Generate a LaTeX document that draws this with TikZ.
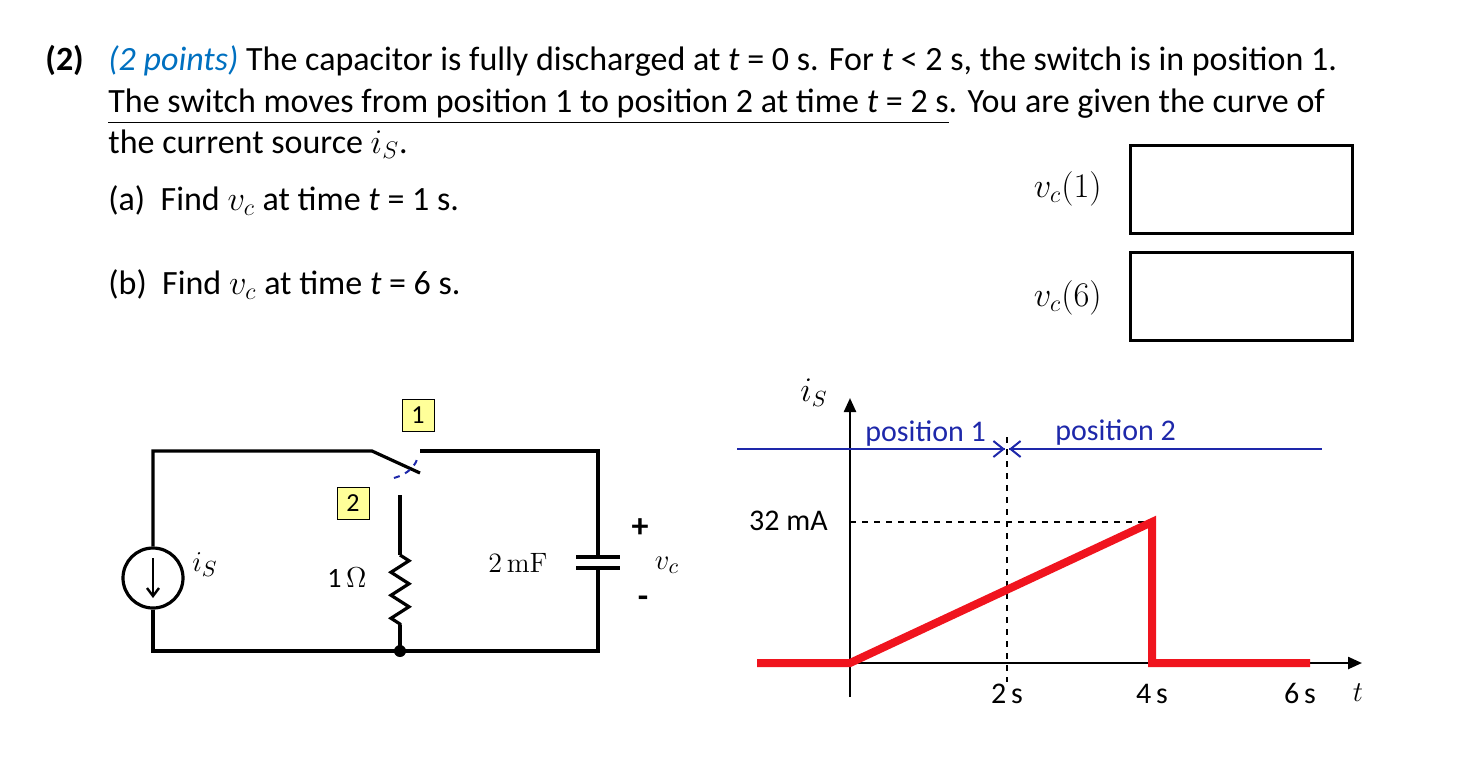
\documentclass[tikz,border=0pt]{standalone}
\usepackage{fontspec}
\usepackage{amsmath}
\setmainfont{Carlito}
\usetikzlibrary{arrows.meta,decorations.pathmorphing,calc}
\definecolor{qblue}{RGB}{0,112,192}
\definecolor{lblue}{RGB}{30,40,170}
\definecolor{boxy}{RGB}{255,255,153}
\definecolor{gred}{RGB}{240,20,30}
\begin{document}
\begin{tikzpicture}[x=0.5pt,y=-0.5pt,
  txt/.style={anchor=base west,inner sep=0pt,font=\fontsize{17}{20}\selectfont},
  wire/.style={line width=1.6pt},
  tag/.style={draw,fill=boxy,minimum size=16pt,inner sep=0pt,font=\fontsize{13}{14}\selectfont},
  glab/.style={inner sep=1pt,font=\fontsize{15}{17}\selectfont},
  ansbox/.style={draw,line width=1.5pt,minimum width=111pt,minimum height=44pt,inner sep=0pt}]
\useasboundingbox (0,0) rectangle (1458,768);
% text
\node[txt] (l1) at (45,70) {\textbf{(2)}};
\node[txt] (l1b) at (108,70) {\textcolor{qblue}{\textit{(2 points)}} The capacitor is fully discharged at \textit{t} = 0 s. For \textit{t} < 2 s, the switch is in position 1.};
\node[txt] (l2) at (108,112) {\underline{The switch moves from position 1 to position 2 at time \textit{t} = 2 s}. You are given the curve of};
\node[txt] (l3) at (108,153) {the current source $i_S$.};
\node[txt] (qa) at (108,210) {(a)\ \ Find $v_c$ at time \textit{t} = 1 s.};
\node[txt] (qb) at (108,294) {(b)\ \ Find $v_c$ at time \textit{t} = 6 s.};
\node[anchor=base east,inner sep=0pt,font=\fontsize{17}{20}\selectfont] (v1) at (1102,197) {$v_c(1)$};
\node[anchor=base east,inner sep=0pt,font=\fontsize{17}{20}\selectfont] (v6) at (1102,306) {$v_c(6)$};
\node[ansbox] (b1) at (1241,189) {};
\node[ansbox] (b2) at (1241,296) {};
% circuit
\coordinate (tl) at (153,451); \coordinate (tr) at (598,451);
\coordinate (bl) at (153,651); \coordinate (br) at (598,651);
\coordinate (sw0) at (372,451); \coordinate (sw1) at (420,473);
\coordinate (sr) at (420,451);
\coordinate (m2) at (400,495); \coordinate (bm) at (400,651);
\node[draw,circle,line width=1.6pt,inner sep=0pt,minimum size=30pt] (src) at (153,578) {};
\draw[wire] (src.north) -- (tl) -- (sw0) -- (sw1);
\draw[wire] (sr) -- (tr) -- (598,557);
\draw[wire] (598,568) -- (br) -- (bl) -- (src.south);
\draw[line width=1.2pt,-{Straight Barb[length=4pt,width=6pt]}] ($(src.center)+(0,-20)$) -- ($(src.center)+(0,20)$);
\draw[lblue,dashed,line width=1pt] (394,478) .. controls (408,474) and (416,466) .. (418,456);
\draw[wire] (m2) -- (400,555);
\draw[wire,decorate,decoration={zigzag,segment length=11.5pt,amplitude=4.5pt}] (400,555) -- (400,625);
\draw[wire] (400,625) -- (bm);
\fill (bm) circle (3pt);
\draw[wire] (576,557) -- (620,557);
\draw[wire] (576,568) -- (620,568);
\node[tag] (t1) at (418,415) {1};
\node[tag] (t2) at (353,503) {2};
\node[font=\fontsize{15}{16}\selectfont,inner sep=0pt] (lis) at (205,565) {$i_S$};
\node[font=\fontsize{14}{16}\selectfont,inner sep=0pt] (lr) at (347,578) {1\,\(\Omega\)};
\node[font=\fontsize{14}{16}\selectfont,inner sep=0pt] (lc) at (518,563) {\fontspec{Latin Modern Roman}2\,mF};
\node[font=\bfseries\fontsize{17}{18}\selectfont,inner sep=0pt] (pl) at (640,528) {+};
\node[font=\fontsize{15}{16}\selectfont,inner sep=0pt] (lv) at (667,565) {$v_c$};
\node[font=\bfseries\fontsize{17}{18}\selectfont,inner sep=0pt] (mi) at (643,602) {-};
% graph
\coordinate (o) at (850,663);
\coordinate (yt) at (850,398); \coordinate (yb) at (850,697);
\coordinate (xe) at (1362,663);
\draw[line width=1.2pt,-{Triangle[length=7pt,width=6pt]}] (yb) -- (yt);
\draw[line width=1.2pt,-{Triangle[length=7pt,width=6pt]}] (o) -- (xe);
\draw[dashed,line width=0.6pt] (1007,437) -- (1007,682);
\draw[dashed,line width=0.6pt] (850,522) -- (1152,522);
\draw[lblue,line width=1pt] (737,449) -- (1005,449);
\draw[lblue,line width=1pt] (1009,449) -- (1322,449);
\draw[lblue,line width=1pt,-{Straight Barb[length=5pt,width=8pt]}] (980,449) -- (1005,449);
\draw[lblue,line width=1pt,-{Straight Barb[length=5pt,width=8pt]}] (1035,449) -- (1009,449);
\draw[gred,line width=4pt,line join=miter] (757,663) -- (850,663) -- (1152,522) -- (1152,663) -- (1310,663);
\node[glab,lblue,anchor=base west] (p1) at (863,441) {position 1};
\node[glab,lblue,anchor=base west] (p2) at (1053,440) {position 2};
\node[glab,anchor=base east] (l32) at (830,530) {32 mA};
\node[glab,anchor=base] (x2) at (1007,703) {2\,s};
\node[glab,anchor=base] (x4) at (1152,703) {4\,s};
\node[glab,anchor=base] (x6) at (1300,703) {6\,s};
\node[font=\fontsize{15}{16}\selectfont,inner sep=0pt,anchor=base] (lt) at (1358,701) {$t$};
\node[font=\fontsize{16}{18}\selectfont,inner sep=0pt] (lis2) at (814,393) {$i_S$};
\end{tikzpicture}
\end{document}
